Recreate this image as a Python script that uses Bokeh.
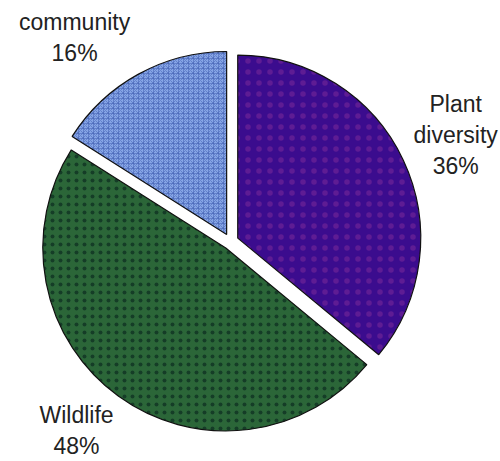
import math
from bokeh.plotting import figure
from bokeh.models import Range1d, ColumnDataSource
from bokeh.core.properties import value
from bokeh.embed import file_html
from bokeh.resources import INLINE

# ---- data ----
categories = ["Plant diversity", "Wildlife", "community"]
shares = [36, 48, 16]
label_lines = [["Plant", "diversity"], ["Wildlife"], ["community"]]

# ---- styles ----
fill_colors = ["#3b0c8e", "#2b6638", "#86a5e6"]
hatch_colors = ["#8a2f9c", "#0c2c20", "#4a68b8"]
hatch_patterns = ["dot", "dot", "criss_cross"]
hatch_scales = [11, 8, 5]
hatch_weights = [2, 4, 1]
hatch_alphas = [0.45, 0.7, 0.6]
label_nudge_deg = [1.45, 2.2, -9.6]
label_radius = [246, 249, 251]

W, H = 500, 461
CX, CY = 230, 220          # pie centre in plot units (y up)
R = 183                    # radius
EXPLODE = 8                # explosion offset
LINE_H = 31
TEXT_DY = 7                # baseline correction

p = figure(width=W, height=H, output_backend="svg", toolbar_location=None,
           x_range=Range1d(0, W), y_range=Range1d(0, H),
           min_border=0)
p.axis.visible = False
p.grid.visible = False
p.outline_line_color = None
p.background_fill_color = "white"
p.border_fill_color = "white"

total = float(sum(shares))
start = 0.0
xs, ys, sa, ea = [], [], [], []
label_x, label_y, label_txt = [], [], []
for i, (cat, v) in enumerate(zip(categories, shares)):
    a1 = start
    a2 = start + 360.0 * v / total
    mid = (a1 + a2) / 2.0
    start = a2
    xs.append(CX + EXPLODE * math.sin(math.radians(mid)))
    ys.append(CY + EXPLODE * math.cos(math.radians(mid)))
    sa.append(math.radians(90 - a2))
    ea.append(math.radians(90 - a1))
    la = math.radians(mid + label_nudge_deg[i])
    ax = CX + label_radius[i] * math.sin(la)
    ay = CY + label_radius[i] * math.cos(la) + TEXT_DY
    lines = label_lines[i] + ["%d%%" % v]
    n = len(lines)
    for k, t in enumerate(lines):
        label_x.append(ax)
        label_y.append(ay + ((n - 1) / 2.0 - k) * LINE_H)
        label_txt.append(t)

src = ColumnDataSource(dict(x=xs, y=ys, start=sa, end=ea, fill=fill_colors,
                            hcol=hatch_colors, hpat=hatch_patterns,
                            hscale=hatch_scales, hw=hatch_weights,
                            ha=hatch_alphas, cat=categories))
p.wedge(x="x", y="y", radius=R, start_angle="start", end_angle="end",
        fill_color="fill", line_color="#111111", line_width=1.2,
        hatch_pattern="hpat", hatch_color="hcol", hatch_scale="hscale",
        hatch_weight="hw", hatch_alpha="ha", source=src)

lsrc = ColumnDataSource(dict(x=label_x, y=label_y, t=label_txt))
p.text(x="x", y="y", text="t", source=lsrc, text_align="center",
       text_baseline="alphabetic", text_font=value("Liberation Sans"),
       text_font_size="23px", text_color="#222222")

open("out.html", "w").write(file_html(p, INLINE))
